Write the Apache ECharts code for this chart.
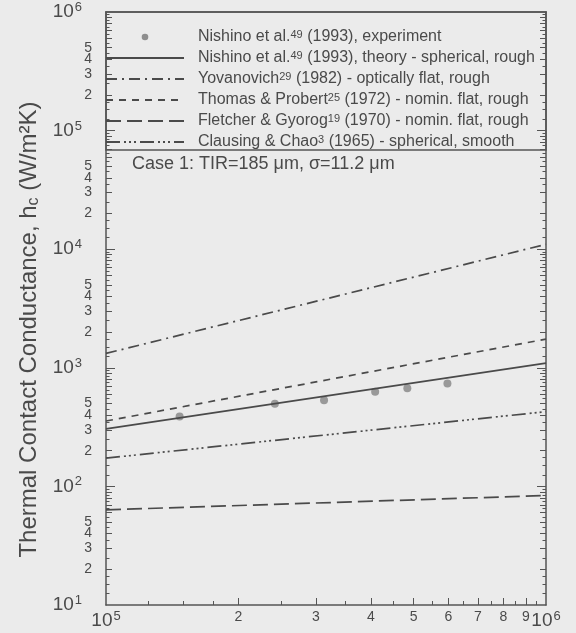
<!DOCTYPE html>
<html>
<head>
<meta charset="utf-8">
<script src="https://cdn.jsdelivr.net/npm/echarts@6/dist/echarts.min.js"></script>
<style>
  html, body { margin: 0; padding: 0; background: #ebebeb; }
  #chart { width: 576px; height: 633px; }
</style>
</head>
<body>
<div id="chart"></div>
<script>
// Contact pressure at the ends of each correlation line (Pa)
const pressure = [1e5, 1e6];
// Contact conductance h_c (W/m^2K) at those pressures
const nishinoTheory = [305, 1096];
const yovanovich = [1322, 11000];
const thomasProbert = [356, 1745];
const fletcherGyorog = [63.4, 83.8];
const clausingChao = [173, 427];

// Measured points (Nishino et al., 1993)
const expPressure = [1.47e5, 2.42e5, 3.13e5, 4.09e5, 4.84e5, 5.97e5];
const expConductance = [388, 497, 532, 628, 671, 738];

// Series names and their legend texts (with superscript reference numbers)
const seriesNames = [
  'Nishino experiment', 'Nishino theory', 'Yovanovich', 'Thomas & Probert',
  'Fletcher & Gyorog', 'Clausing & Chao'
];
const legendTexts = [
  'Nishino et al.{s|49} (1993), experiment',
  'Nishino et al.{s|49} (1993), theory - spherical, rough',
  'Yovanovich{s|29} (1982) - optically flat, rough',
  'Thomas & Probert{s|25} (1972) - nomin. flat, rough',
  'Fletcher & Gyorog{s|19} (1970) - nomin. flat, rough',
  'Clausing & Chao{s|3} (1965) - spherical, smooth'
];

// Tick label values
const xLabelValues = [1e5, 2e5, 3e5, 4e5, 5e5, 6e5, 7e5, 8e5, 9e5, 1e6];
const yLabelValues = [
  10, 20, 30, 40, 50,
  100, 200, 300, 400, 500,
  1e3, 2e3, 3e3, 4e3, 5e3,
  1e4, 2e4, 3e4, 4e4, 5e4,
  1e5, 2e5, 3e5, 4e5, 5e5,
  1e6
];

// Log-paper tick mantissas
const wholeMantissas = [2, 3, 4, 5, 6, 7, 8, 9];
const halfMantissas = [1.25, 1.5, 1.75, 2.5, 3.5, 4.5, 5.5, 6.5, 7.5, 8.5, 9.5];
const xDecades = [1e5];
const yDecades = [10, 100, 1e3, 1e4, 1e5];

function tickValues(decades, mantissas) {
  const out = [];
  decades.forEach(d => mantissas.forEach(m => out.push(d * m)));
  return out;
}

const INK = '#4a4a4a';
const FONT = '"Liberation Sans", Arial, sans-serif';

function logLabel(v) {
  const e = Math.round(Math.log10(v));
  if (Math.abs(v / Math.pow(10, e) - 1) < 1e-6) return '{b|10}{s|' + e + '}';
  const d = Math.pow(10, Math.floor(Math.log10(v) + 1e-9));
  return '{m|' + Math.round(v / d) + '}';
}

const labelRich = {
  b: { fontSize: 19, fontFamily: FONT, color: INK, lineHeight: 22 },
  s: { fontSize: 13, fontFamily: FONT, color: INK, lineHeight: 22, verticalAlign: 'top', padding: [0, 0, 0, 1] },
  m: { fontSize: 14, fontFamily: FONT, color: INK, lineHeight: 14 }
};

function baseLog(extra) {
  return Object.assign({
    type: 'log', logBase: 10,
    axisLine: { show: false, onZero: false },
    axisTick: { show: false },
    axisLabel: { show: false },
    splitLine: { show: false },
    minorTick: { show: false },
    minorSplitLine: { show: false }
  }, extra);
}

const lineAxis = { show: true, onZero: false, lineStyle: { color: '#555', width: 1.5 } };
function ticks(values, len) {
  return { show: true, inside: true, length: len, customValues: values, lineStyle: { color: '#555', width: 1 } };
}

const xRange = { min: 1e5, max: 1e6 };
const yRange = { min: 10, max: 1e6 };

const xAxis = [
  baseLog(Object.assign({
    position: 'bottom',
    axisLine: lineAxis,
    axisTick: ticks(tickValues(xDecades, wholeMantissas), 7),
    axisLabel: {
      show: true, customValues: xLabelValues, margin: 5,
      formatter: logLabel, rich: labelRich
    }
  }, xRange)),
  baseLog(Object.assign({ position: 'bottom', axisTick: ticks(tickValues(xDecades, halfMantissas), 4) }, xRange)),
  baseLog(Object.assign({ position: 'top', axisLine: lineAxis }, xRange))
];

const yAxis = [
  baseLog(Object.assign({
    position: 'left',
    axisLine: lineAxis,
    axisTick: ticks(yDecades.slice(1), 9),
    axisLabel: {
      show: true, customValues: yLabelValues, margin: 14,
      formatter: function (v) {
        const t = logLabel(v);
        return t.indexOf('{b|') === 0 ? t + '{p|}' : t;
      },
      rich: Object.assign({ p: { width: 10 } }, labelRich)
    },
    name: 'Thermal Contact Conductance, h{sub|c} (W/m²K)',
    nameLocation: 'middle',
    nameRotate: 90,
    nameGap: 64,
    nameTextStyle: {
      fontSize: 24, fontFamily: FONT, color: INK, padding: [0, 42, 0, 0],
      rich: { sub: { fontSize: 16, fontFamily: FONT, color: INK, verticalAlign: 'bottom' } }
    }
  }, yRange)),
  baseLog(Object.assign({ position: 'left', axisTick: ticks(tickValues(yDecades, wholeMantissas), 6) }, yRange)),
  baseLog(Object.assign({ position: 'left', axisTick: ticks(tickValues(yDecades, halfMantissas), 3.5) }, yRange)),
  baseLog(Object.assign({ position: 'right', axisLine: lineAxis, axisTick: ticks(yDecades.slice(1), 9) }, yRange)),
  baseLog(Object.assign({ position: 'right', axisTick: ticks(tickValues(yDecades, wholeMantissas), 6) }, yRange)),
  baseLog(Object.assign({ position: 'right', axisTick: ticks(tickValues(yDecades, halfMantissas), 3.5) }, yRange))
];

function corrLine(name, values, dash) {
  return {
    name: name, type: 'line', xAxisIndex: 0, yAxisIndex: 0,
    data: pressure.map((p, i) => [p, values[i]]),
    symbol: 'none', silent: true,
    itemStyle: { color: INK },
    lineStyle: { color: INK, width: 1.7, type: dash }
  };
}

const dotIcon = "image://data:image/svg+xml;utf8," +
  "<svg xmlns='http://www.w3.org/2000/svg' width='78' height='14'>" +
  "<circle cx='39' cy='7' r='3.3' fill='%23777'/></svg>";

// Line entries in the key show only the stroke, no marker
function lineKey(name) {
  return { name: name, itemStyle: { opacity: 0 } };
}

const option = {
  backgroundColor: '#ebebeb',
  animation: false,
  grid: { left: 106, right: 30, top: 12, bottom: 28, containLabel: false },
  xAxis: xAxis,
  yAxis: yAxis,
  legend: {
    orient: 'vertical', left: 105, top: 29, padding: 0,
    itemWidth: 78, itemHeight: 14, itemGap: 5,
    selectedMode: false,
    data: [
      { name: seriesNames[0], icon: dotIcon },
      lineKey(seriesNames[1]), lineKey(seriesNames[2]), lineKey(seriesNames[3]),
      lineKey(seriesNames[4]), lineKey(seriesNames[5])
    ],
    formatter: function (name) { return legendTexts[seriesNames.indexOf(name)]; },
    textStyle: {
      fontSize: 16, fontFamily: FONT, color: INK, lineHeight: 16, padding: [0, 0, 0, 9],
      rich: { s: { fontSize: 11, fontFamily: FONT, color: INK, verticalAlign: 'top', lineHeight: 11 } }
    }
  },
  graphic: [
    {
      type: 'rect', silent: true,
      shape: { x: 106, y: 12, width: 440, height: 138 },
      style: { fill: 'none', stroke: '#555', lineWidth: 1.5 }
    },
    {
      type: 'text', left: 132, top: 155, silent: true,
      style: { text: 'Case 1: TIR=185 μm, σ=11.2 μm', font: '18px ' + FONT, fill: INK }
    }
  ],
  series: [
    {
      name: seriesNames[0], type: 'scatter', xAxisIndex: 0, yAxisIndex: 0,
      data: expPressure.map((p, i) => [p, expConductance[i]]),
      symbol: 'circle', symbolSize: 8, silent: true,
      itemStyle: { color: '#858585' }
    },
    corrLine(seriesNames[1], nishinoTheory, 'solid'),
    corrLine(seriesNames[2], yovanovich, [11, 5, 2, 5]),
    corrLine(seriesNames[3], thomasProbert, [7, 6]),
    corrLine(seriesNames[4], fletcherGyorog, [15, 6]),
    corrLine(seriesNames[5], clausingChao, [14, 4, 2, 3, 2, 3, 2, 4])
  ]
};

const chart = echarts.init(document.getElementById('chart'), null, { renderer: 'canvas' });
chart.setOption(option);
</script>
</body>
</html>
